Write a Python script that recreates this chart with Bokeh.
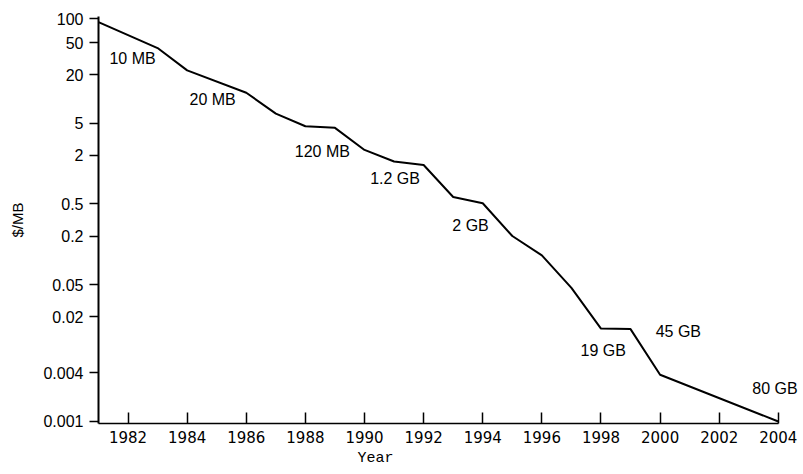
from bokeh.plotting import figure
from bokeh.models import (Range1d, FixedTicker, CustomJSTickFormatter, LabelSet,
                          ColumnDataSource, Title)
from bokeh.core.properties import value
from bokeh.embed import file_html
from bokeh.resources import INLINE

# ---- data ----
years = [1981, 1983, 1984, 1986, 1987, 1988, 1989, 1990, 1991, 1992, 1993,
         1994, 1995, 1996, 1997, 1998, 1999, 2000, 2004]
price_per_mb = [90, 43, 22.7, 12, 6.6, 4.6, 4.4, 2.34, 1.68, 1.52, 0.61,
                0.51, 0.2, 0.115, 0.0455, 0.0142, 0.014, 0.0038, 0.001]

ann_text = ["10 MB", "20 MB", "120 MB", "1.2 GB", "2 GB", "19 GB", "45 GB", "80 GB"]
ann_year = [1981.37, 1984.08, 1987.64, 1990.19, 1992.97, 1997.31, 1999.85, 2003.12]
ann_value = [31.6, 9.75, 2.24, 1.04, 0.267, 0.0075, 0.0129, 0.0026]

x_ticks = [1982, 1984, 1986, 1988, 1990, 1992, 1994, 1996, 1998, 2000, 2002, 2004]
y_ticks = [100, 50, 20, 5, 2, 0.5, 0.2, 0.05, 0.02, 0.004, 0.001]

p = figure(width=801, height=470, y_axis_type="log",
           x_range=Range1d(1981, 2004.75), y_range=Range1d(0.000944, 105.9),
           output_backend="svg", toolbar_location=None,
           min_border_left=98, min_border_right=1, min_border_top=16,
           min_border_bottom=47)
p.outline_line_color = None
p.xgrid.grid_line_color = None
p.ygrid.grid_line_color = None
p.background_fill_color = "white"

p.line(years, price_per_mb, line_color="black", line_width=2)

src = ColumnDataSource(dict(x=ann_year, y=ann_value, t=ann_text))
p.add_layout(LabelSet(x="x", y="y", text="t", source=src, text_align="left",
                      text_baseline="middle", text_font=value("Liberation Sans"),
                      text_font_size="16px", text_color="black"))

# x axis
xa = p.xaxis[0]
xa.bounds = (1981, 2004)
xa.ticker = FixedTicker(ticks=x_ticks)
xa.minor_tick_line_color = None
xa.major_tick_in = 11
xa.major_tick_out = 0
xa.axis_line_width = 1.5
xa.major_tick_line_width = 1.5
xa.major_label_standoff = 7
xa.major_label_text_font = "DejaVu Sans"
xa.major_label_text_font_size = "15px"
xa.major_label_text_color = "black"

# y axis
ya = p.yaxis[0]
ya.ticker = FixedTicker(ticks=y_ticks)
ya.formatter = CustomJSTickFormatter(code="return tick.toString();")
ya.minor_tick_line_color = None
ya.major_tick_in = 0
ya.major_tick_out = 9
ya.axis_line_width = 2
ya.major_tick_line_width = 1.5
ya.major_label_standoff = 6
ya.major_label_text_font = "Liberation Sans"
ya.major_label_text_font_size = "16px"
ya.major_label_text_color = "black"
ya.axis_label = "$/MB"
ya.axis_label_text_font = "Liberation Sans"
ya.axis_label_text_font_size = "15px"
ya.axis_label_text_font_style = "normal"
ya.axis_label_text_color = "black"
ya.axis_label_standoff = 14

p.add_layout(Title(text="Year", align="left", offset=259, standoff=5,
                   text_font="Liberation Mono", text_font_size="15px",
                   text_font_style="normal", text_color="black"), "below")

open("out.html", "w").write(file_html(p, INLINE))
